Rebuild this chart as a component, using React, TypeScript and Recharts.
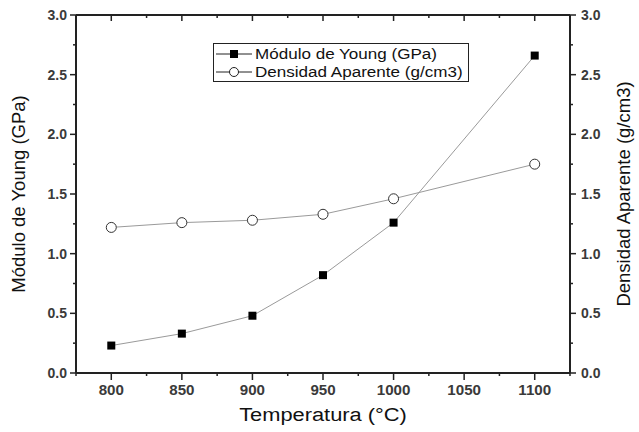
import { ComposedChart, Line, XAxis, YAxis, Legend } from "recharts";

const temperatures = [800, 850, 900, 950, 1000, 1100];
const youngModulus = [0.23, 0.33, 0.48, 0.82, 1.26, 2.66];
const density = [1.22, 1.26, 1.28, 1.33, 1.46, 1.75];

const xTicks = [775, 800, 825, 850, 875, 900, 925, 950, 975, 1000, 1025, 1050, 1075, 1100, 1125];
const yTicks = [0, 0.25, 0.5, 0.75, 1, 1.25, 1.5, 1.75, 2, 2.25, 2.5, 2.75, 3];

const data = temperatures.map((t, i) => ({
  t,
  young: youngModulus[i],
  dens: density[i],
}));

const FONT = "'Liberation Sans', Arial, sans-serif";
const AXIS = "#222";
const LINE = "#9a9a9a";
const TICK_TEXT = "#3a3a3a";

const isMajorX = (v: number) => v % 50 === 0 && v >= 800 && v <= 1100;
const isMajorY = (v: number) => Math.abs(v * 2 - Math.round(v * 2)) < 1e-6;

function BottomTick({ x, y, payload }: any) {
  const v = payload.value;
  const major = isMajorX(v);
  return (
    <g>
      <line x1={x} x2={x} y1={y} y2={y + (major ? 7 : 3)} stroke={AXIS} strokeWidth={1.5} />
      {major && (
        <text
          transform={`translate(${x} ${y + 22}) scale(1.08 1)`}
          textAnchor="middle"
          fontFamily={FONT}
          fontSize={14}
          fontWeight={700}
          fill={TICK_TEXT}
        >
          {v}
        </text>
      )}
    </g>
  );
}

function TopTick({ x, y, payload }: any) {
  const major = isMajorX(payload.value);
  return <line x1={x} x2={x} y1={y} y2={y + (major ? 6 : 3)} stroke={AXIS} strokeWidth={1.5} />;
}

function LeftTick({ x, y, payload }: any) {
  const v = payload.value;
  const major = isMajorY(v);
  return (
    <g>
      <line x1={x} x2={x - (major ? 6 : 3)} y1={y} y2={y} stroke={AXIS} strokeWidth={1.5} />
      {major && (
        <text x={x - 9} y={y + 5} textAnchor="end" fontFamily={FONT} fontSize={14} fontWeight={700} fill={TICK_TEXT}>
          {v.toFixed(1)}
        </text>
      )}
    </g>
  );
}

function RightTick({ x, y, payload }: any) {
  const v = payload.value;
  const major = isMajorY(v);
  return (
    <g>
      <line x1={x} x2={x + (major ? 6 : 3)} y1={y} y2={y} stroke={AXIS} strokeWidth={1.5} />
      {major && (
        <text x={x + 11} y={y + 5} textAnchor="start" fontFamily={FONT} fontSize={14} fontWeight={700} fill={TICK_TEXT}>
          {v.toFixed(1)}
        </text>
      )}
    </g>
  );
}

function SquareDot({ cx, cy }: any) {
  return <rect x={cx - 4} y={cy - 4} width={8} height={8} fill="#000" />;
}

function CircleDot({ cx, cy }: any) {
  return <circle cx={cx} cy={cy} r={5} fill="#fff" stroke="#333" strokeWidth={1} />;
}

function LegendBox() {
  const row = (icon: "square" | "circle", label: string) => (
    <div style={{ display: "flex", alignItems: "center", height: 18 }}>
      <svg width={38} height={14} style={{ flex: "none" }}>
        <line x1={1} x2={37} y1={7} y2={7} stroke="#222" strokeWidth={1} />
        {icon === "square" ? (
          <rect x={15} y={3} width={8} height={8} fill="#000" />
        ) : (
          <circle cx={19} cy={7} r={4.5} fill="#fff" stroke="#222" strokeWidth={1} />
        )}
      </svg>
      <span
        style={{
          marginLeft: 2,
          display: "inline-block",
          whiteSpace: "nowrap",
          transform: "scaleX(1.1)",
          transformOrigin: "left center",
        }}
      >
        {label}
      </span>
    </div>
  );
  return (
    <div
      style={{
        border: "1px solid #222",
        background: "#fff",
        width: 256,
        height: 39,
        boxSizing: "border-box",
        padding: "1px 0 0 1px",
        fontFamily: FONT,
        fontSize: 15.5,
        color: "#111",
        lineHeight: "18px",
        overflow: "hidden",
      }}
    >
      {row("square", "Módulo de Young (GPa)")}
      {row("circle", "Densidad Aparente (g/cm3)")}
    </div>
  );
}

function LeftTitle({ viewBox }: any) {
  const cy = viewBox.y + viewBox.height / 2;
  return (
    <text x={25} y={cy} transform={`rotate(-90 25 ${cy})`} textAnchor="middle" fontFamily={FONT} fontSize={18.5} fill="#111">
      Módulo de Young (GPa)
    </text>
  );
}

function RightTitle({ viewBox }: any) {
  const cy = viewBox.y + viewBox.height / 2;
  const cx = 630;
  return (
    <text x={cx} y={cy} transform={`rotate(-90 ${cx} ${cy})`} textAnchor="middle" fontFamily={FONT} fontSize={18.5} fill="#111">
      Densidad Aparente (g/cm3)
    </text>
  );
}

function BottomTitle({ viewBox }: any) {
  const cx = viewBox.x + viewBox.width / 2;
  return (
    <text
      transform={`translate(${cx} 421) scale(1.15 1)`}
      textAnchor="middle"
      fontFamily={FONT}
      fontSize={19}
      fill="#111"
    >
      Temperatura (°C)
    </text>
  );
}

export default function App() {
  return (
    <div style={{ position: "absolute", left: 0, top: 0, width: 639, height: 432, background: "#fff" }}>
      <ComposedChart width={639} height={432} data={data} margin={{ top: 14, right: 0, bottom: 0, left: 0 }}>
        <XAxis
          xAxisId="b"
          dataKey="t"
          type="number"
          domain={[775, 1125]}
          ticks={xTicks}
          interval={0}
          height={59}
          tickSize={0}
          tickMargin={0}
          tick={<BottomTick />}
          axisLine={{ stroke: AXIS, strokeWidth: 2 }}
          label={<BottomTitle />}
        />
        <XAxis
          xAxisId="t"
          orientation="top"
          dataKey="t"
          type="number"
          domain={[775, 1125]}
          ticks={xTicks}
          interval={0}
          height={1}
          tickSize={0}
          tickMargin={0}
          tick={<TopTick />}
          axisLine={{ stroke: AXIS, strokeWidth: 2 }}
        />
        <YAxis
          yAxisId="l"
          type="number"
          domain={[0, 3]}
          ticks={yTicks}
          interval={0}
          width={76}
          tickSize={0}
          tickMargin={0}
          tick={<LeftTick />}
          axisLine={{ stroke: AXIS, strokeWidth: 2 }}
          label={<LeftTitle />}
        />
        <YAxis
          yAxisId="r"
          orientation="right"
          type="number"
          domain={[0, 3]}
          ticks={yTicks}
          interval={0}
          width={69}
          tickSize={0}
          tickMargin={0}
          tick={<RightTick />}
          axisLine={{ stroke: AXIS, strokeWidth: 2 }}
          label={<RightTitle />}
        />
        <Legend
          content={<LegendBox />}
          layout="horizontal"
          verticalAlign="middle"
          align="center"
          wrapperStyle={{ position: "absolute", left: 213, top: 43, width: 256 }}
        />
        <Line
          xAxisId="b"
          yAxisId="l"
          dataKey="young"
          stroke={LINE}
          strokeWidth={1}
          dot={<SquareDot />}
          activeDot={false}
          isAnimationActive={false}
        />
        <Line
          xAxisId="b"
          yAxisId="r"
          dataKey="dens"
          stroke={LINE}
          strokeWidth={1}
          dot={<CircleDot />}
          activeDot={false}
          isAnimationActive={false}
        />
      </ComposedChart>
    </div>
  );
}
